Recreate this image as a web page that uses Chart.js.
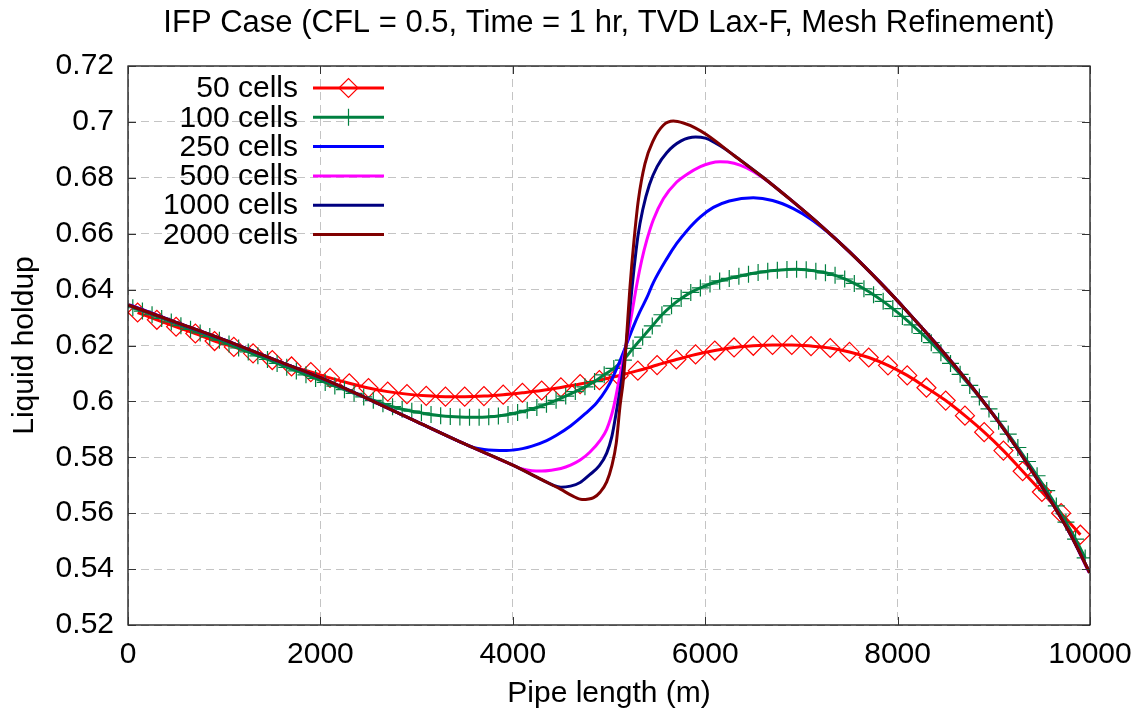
<!DOCTYPE html>
<html>
<head>
<meta charset="utf-8">
<script src="https://cdn.jsdelivr.net/npm/chart.js@4.4.1/dist/chart.umd.min.js"></script>
<style>
html,body{margin:0;padding:0;background:#fff;}
canvas{display:block;}
</style>
</head>
<body>
<canvas id="c" width="1138" height="715"></canvas>
<script>
const titleText = 'IFP Case (CFL = 0.5, Time = 1 hr, TVD Lax-F, Mesh Refinement)';
const xAxisTitle = 'Pipe length (m)';
const yAxisTitle = 'Liquid holdup';
const xTickValues = [0, 2000, 4000, 6000, 8000, 10000];
const xTickLabels = ['0', '2000', '4000', '6000', '8000', '10000'];
const yTickValues = [0.52, 0.54, 0.56, 0.58, 0.6, 0.62, 0.64, 0.66, 0.68, 0.7, 0.72];
const yTickLabels = ['0.52', '0.54', '0.56', '0.58', '0.6', '0.62', '0.64', '0.66', '0.68', '0.7', '0.72'];
const seriesNames = ['50 cells', '100 cells', '250 cells', '500 cells', '1000 cells', '2000 cells'];
const seriesColors = ['#ff0000', '#008040', '#0000ff', '#ff00ff', '#000080', '#800000'];

// 50 cells (cell centres)
const x50 = [100,300,500,700,900,1100,1300,1500,1700,1900,2100,2300,2500,2700,2900,3100,3300,3500,3700,3900,
  4100,4300,4500,4700,4900,5100,5300,5500,5700,5900,6100,6300,6500,6700,6900,7100,7300,7500,7700,7900,
  8100,8300,8500,8700,8900,9100,9300,9500,9700,9900];
const y50 = [0.6318,0.6292,0.6267,0.6243,0.6216,0.6195,0.6172,0.6148,0.6125,0.6105,0.6084,0.6065,0.6048,0.6035,0.6026,0.6020,0.6017,0.6017,0.6019,0.6024,
  0.6031,0.6039,0.6050,0.6062,0.6076,0.6092,0.6110,0.6130,0.6150,0.6168,0.6182,0.6193,0.6199,0.6202,0.6202,0.6198,0.6191,0.6177,0.6157,0.6129,
  0.6093,0.6049,0.6003,0.5949,0.5890,0.5824,0.5750,0.5676,0.5600,0.5523];

// 100 cells (cell centres)
const x100 = [50,150,250,350,450,550,650,750,850,950,1050,1150,1250,1350,1450,1550,1650,1750,1850,1950,
  2050,2150,2250,2350,2450,2550,2650,2750,2850,2950,3050,3150,3250,3350,3450,3550,3650,3750,3850,3950,
  4050,4150,4250,4350,4450,4550,4650,4750,4850,4950,5050,5150,5250,5350,5450,5550,5650,5750,5850,5950,
  6050,6150,6250,6350,6450,6550,6650,6750,6850,6950,7050,7150,7250,7350,7450,7550,7650,7750,7850,7950,
  8050,8150,8250,8350,8450,8550,8650,8750,8850,8950,9050,9150,9250,9350,9450,9550,9650,9750,9850,9950];
const y100 = [0.6335,0.6323,0.6310,0.6297,0.6284,0.6271,0.6258,0.6245,0.6232,0.6219,0.6205,0.6191,0.6177,0.6163,0.6150,0.6136,0.6122,0.6109,0.6095,0.6082,
  0.6068,0.6055,0.6042,0.6029,0.6016,0.6004,0.5992,0.5981,0.5972,0.5965,0.5959,0.5953,0.5949,0.5946,0.5944,0.5943,0.5943,0.5945,0.5948,0.5953,
  0.5960,0.5968,0.5978,0.5990,0.6004,0.6019,0.6035,0.6052,0.6071,0.6095,0.6118,0.6148,0.6190,0.6230,0.6270,0.6310,0.6342,0.6368,0.6390,0.6406,
  0.6420,0.6431,0.6440,0.6448,0.6455,0.6461,0.6466,0.6469,0.6472,0.6473,0.6471,0.6466,0.6460,0.6451,0.6438,0.6422,0.6403,0.6382,0.6358,0.6332,
  0.6304,0.6274,0.6243,0.6210,0.6174,0.6136,0.6097,0.6057,0.6016,0.5973,0.5929,0.5883,0.5835,0.5785,0.5734,0.5681,0.5626,0.5568,0.5507,0.5440];

// 250 cells
const x250 = [20,500,1000,1500,2000,2500,3000,3500,3600,3700,3800,3936,4005,4100,4200,4352,4450,4600,4750,4872,4976,
  5045,5110,5177,5250,5320,5392,5461,5600,5704,5808,5950,6085,6250,6500,6700,6916,7100,7300,
  7500,7800,8100,8400,8700,9000,9300,9600,9800,9980];
const y250 = [0.6345,0.6283,0.6220,0.6152,0.6085,0.6008,0.5928,0.5848,0.5834,0.5828,0.5825,0.5824,0.5826,0.5831,0.5840,0.5860,0.5878,0.5912,0.5955,0.5995,0.6045,
  0.6090,0.6142,0.6200,0.6265,0.6320,0.6370,0.6425,0.6510,0.6565,0.6610,0.6660,0.6694,0.6717,0.6729,0.6719,0.6690,0.6652,0.6598,
  0.6535,0.6432,0.6322,0.6206,0.6083,0.5950,0.5802,0.5640,0.5522,0.5399];

// 500 cells
const x500 = [10,500,1000,1500,2000,2500,3000,3500,4000,4100,4200,4300,4400,4500,4600,4700,4800,4906,4976,
  5045,5110,5177,5240,5290,5340,5392,5461,5565,5704,5808,5950,6050,6154,6300,6431,6600,
  6900,7200,7500,7800,8100,8400,8700,9000,9300,9600,9800,9990];
const y500 = [0.6345,0.6283,0.6220,0.6152,0.6085,0.6008,0.5928,0.5848,0.5772,0.5758,0.5752,0.5751,0.5754,0.5760,0.5772,0.5790,0.5818,0.5860,0.5900,
  0.5975,0.6085,0.6200,0.6320,0.6420,0.6505,0.6576,0.6650,0.6725,0.6785,0.6812,0.6840,0.6852,0.6857,0.6852,0.6835,0.6800,
  0.6718,0.6630,0.6535,0.6432,0.6322,0.6206,0.6083,0.5950,0.5802,0.5640,0.5522,0.5388];

// 1000 cells
const x1000 = [5,500,1000,1500,2000,2500,3000,3500,4000,4300,4420,4500,4600,4700,4800,4900,4976,
  5030,5080,5130,5177,5220,5260,5300,5350,5420,5500,5600,5750,5900,6000,6100,6200,6300,6600,
  6900,7200,7500,7800,8100,8400,8700,9000,9300,9600,9800,9995];
const y1000 = [0.6345,0.6283,0.6220,0.6152,0.6085,0.6008,0.5928,0.5848,0.5772,0.5720,0.5700,0.5693,0.5697,0.5710,0.5738,0.5770,0.5815,
  0.5875,0.5970,0.6075,0.6200,0.6340,0.6475,0.6590,0.6685,0.6775,0.6840,0.6890,0.6932,0.6946,0.6942,0.6926,0.6905,0.6880,0.6802,
  0.6718,0.6630,0.6535,0.6432,0.6322,0.6206,0.6083,0.5950,0.5802,0.5640,0.5522,0.5387];

// 2000 cells
const x2000 = [2.5,500,1000,1500,2000,2500,3000,3500,4000,4300,4500,4620,4720,4840,4910,4976,5030,5075,5115,5150,5177,
  5218,5260,5305,5374,5461,5565,5669,5773,5900,6016,6300,6600,6900,7200,7500,7800,8100,8400,8700,9000,
  9300,9600,9800,9997.5];
const y2000 = [0.6345,0.6283,0.6220,0.6152,0.6085,0.6008,0.5928,0.5848,0.5772,0.5720,0.5685,0.5662,0.5649,0.5656,0.5676,0.5712,0.5770,0.5850,0.5985,0.6080,0.6200,
  0.6409,0.6576,0.6720,0.6851,0.6934,0.6988,0.7003,0.6996,0.6978,0.6954,0.6880,0.6802,0.6718,0.6630,0.6535,0.6432,0.6322,0.6206,0.6083,0.5950,
  0.5802,0.5640,0.5522,0.5387];

const FONT_FAMILY = '"Liberation Sans", Arial, Helvetica, sans-serif';
const pts = (xs, ys) => xs.map((x, i) => ({x: x, y: ys[i]}));

const seriesX = [x50, x100, x250, x500, x1000, x2000];
const seriesY = [y50, y100, y250, y500, y1000, y2000];
const markerStyles = ['rectRot', 'cross', false, false, false, false];
const markerRadius = [9.5, 8.5, 0, 0, 0, 0];

const datasets = seriesNames.map((name, i) => ({
  label: name,
  data: pts(seriesX[i], seriesY[i]),
  borderColor: seriesColors[i],
  backgroundColor: seriesColors[i],
  borderWidth: 3,
  pointStyle: markerStyles[i] || 'circle',
  pointRadius: markerRadius[i],
  pointBorderWidth: 1.2,
  pointBorderColor: seriesColors[i],
  pointBackgroundColor: 'rgba(0,0,0,0)',
  pointHoverRadius: markerRadius[i],
  cubicInterpolationMode: 'monotone',
  fill: false,
  order: seriesNames.length - i
}));

const framePlugin = {
  id: 'gpFrame',
  afterDraw(chart) {
    const {ctx, chartArea: a, scales} = chart;
    ctx.save();
    // title centred over the plot area (gnuplot style)
    ctx.font = '31px ' + FONT_FAMILY;
    ctx.fillStyle = '#000';
    ctx.textAlign = 'center';
    ctx.textBaseline = 'middle';
    ctx.fillText(titleText, (a.left + a.right) / 2, 23);

    ctx.strokeStyle = '#000';
    ctx.lineWidth = 1.2;
    ctx.strokeRect(a.left, a.top, a.right - a.left, a.bottom - a.top);
    const tl = 8;
    ctx.strokeStyle = '#333';
    ctx.lineWidth = 1;
    ctx.beginPath();
    xTickValues.forEach(v => {
      const px = Math.round(scales.x.getPixelForValue(v)) + 0.5;
      ctx.moveTo(px, a.bottom); ctx.lineTo(px, a.bottom - tl);
      ctx.moveTo(px, a.top); ctx.lineTo(px, a.top + tl);
    });
    yTickValues.forEach(v => {
      const py = Math.round(scales.y.getPixelForValue(v)) + 0.5;
      ctx.moveTo(a.left, py); ctx.lineTo(a.left + tl, py);
      ctx.moveTo(a.right, py); ctx.lineTo(a.right - tl, py);
    });
    ctx.stroke();

    // key (legend) in gnuplot style: right-aligned label, then sample line
    ctx.font = '30px ' + FONT_FAMILY;
    ctx.textAlign = 'right';
    ctx.textBaseline = 'middle';
    const textRight = a.left + 170;
    const lineL = a.left + 185, lineR = a.left + 256;
    chart.data.datasets.forEach((ds, i) => {
      const y = a.top + 22 + i * 29.3;
      ctx.fillStyle = '#000';
      ctx.fillText(ds.label, textRight, y + 1);
      ctx.strokeStyle = ds.borderColor;
      ctx.lineWidth = 3;
      ctx.beginPath(); ctx.moveTo(lineL, y); ctx.lineTo(lineR, y); ctx.stroke();
      const cx = (lineL + lineR) / 2;
      ctx.lineWidth = 1.2;
      if (ds.pointStyle === 'rectRot') {
        const r = ds.pointRadius;
        ctx.beginPath();
        ctx.moveTo(cx - r, y); ctx.lineTo(cx, y - r); ctx.lineTo(cx + r, y); ctx.lineTo(cx, y + r); ctx.closePath();
        ctx.stroke();
      } else if (ds.pointStyle === 'cross') {
        const r = ds.pointRadius;
        ctx.beginPath();
        ctx.moveTo(cx, y - r); ctx.lineTo(cx, y + r);
        ctx.moveTo(cx - r, y); ctx.lineTo(cx + r, y);
        ctx.stroke();
      }
    });
    ctx.restore();
  }
};

new Chart(document.getElementById('c'), {
  type: 'line',
  data: {datasets: datasets},
  options: {
    responsive: false,
    animation: false,
    devicePixelRatio: 1,
    layout: {padding: {left: 0, right: 48, top: 66, bottom: 0}},
    plugins: {
      legend: {display: false},
      tooltip: {enabled: false},
      title: {display: false}
    },
    scales: {
      x: {
        type: 'linear',
        min: 0, max: 10000,
        afterBuildTicks: s => { s.ticks = xTickValues.map(v => ({value: v})); },
        afterFit: s => { s.height = 90; s.paddingLeft = 0; s.paddingRight = 0; },
        ticks: {
          callback: (v, i) => xTickLabels[i],
          color: '#000',
          font: {family: FONT_FAMILY, size: 30},
          padding: 12,
          maxRotation: 0,
          autoSkip: false
        },
        grid: {color: '#c4c4c4', lineWidth: 1, drawTicks: false},
        border: {display: false, dash: [8, 5]},
        title: {display: true, text: xAxisTitle, color: '#000', font: {family: FONT_FAMILY, size: 30}, padding: {top: 0, bottom: 3}}
      },
      y: {
        type: 'linear',
        min: 0.52, max: 0.72,
        afterBuildTicks: s => { s.ticks = yTickValues.map(v => ({value: v})); },
        afterFit: s => { s.width = 128; s.paddingTop = 0; s.paddingBottom = 0; },
        ticks: {
          callback: (v, i) => yTickLabels[i],
          color: '#000',
          font: {family: FONT_FAMILY, size: 30},
          padding: 14,
          autoSkip: false
        },
        grid: {color: '#c4c4c4', lineWidth: 1, drawTicks: false},
        border: {display: false, dash: [8, 5]},
        title: {display: true, text: yAxisTitle, color: '#000', font: {family: FONT_FAMILY, size: 30}, padding: {top: 7, bottom: 0}}
      }
    }
  },
  plugins: [framePlugin]
});
</script>
</body>
</html>
